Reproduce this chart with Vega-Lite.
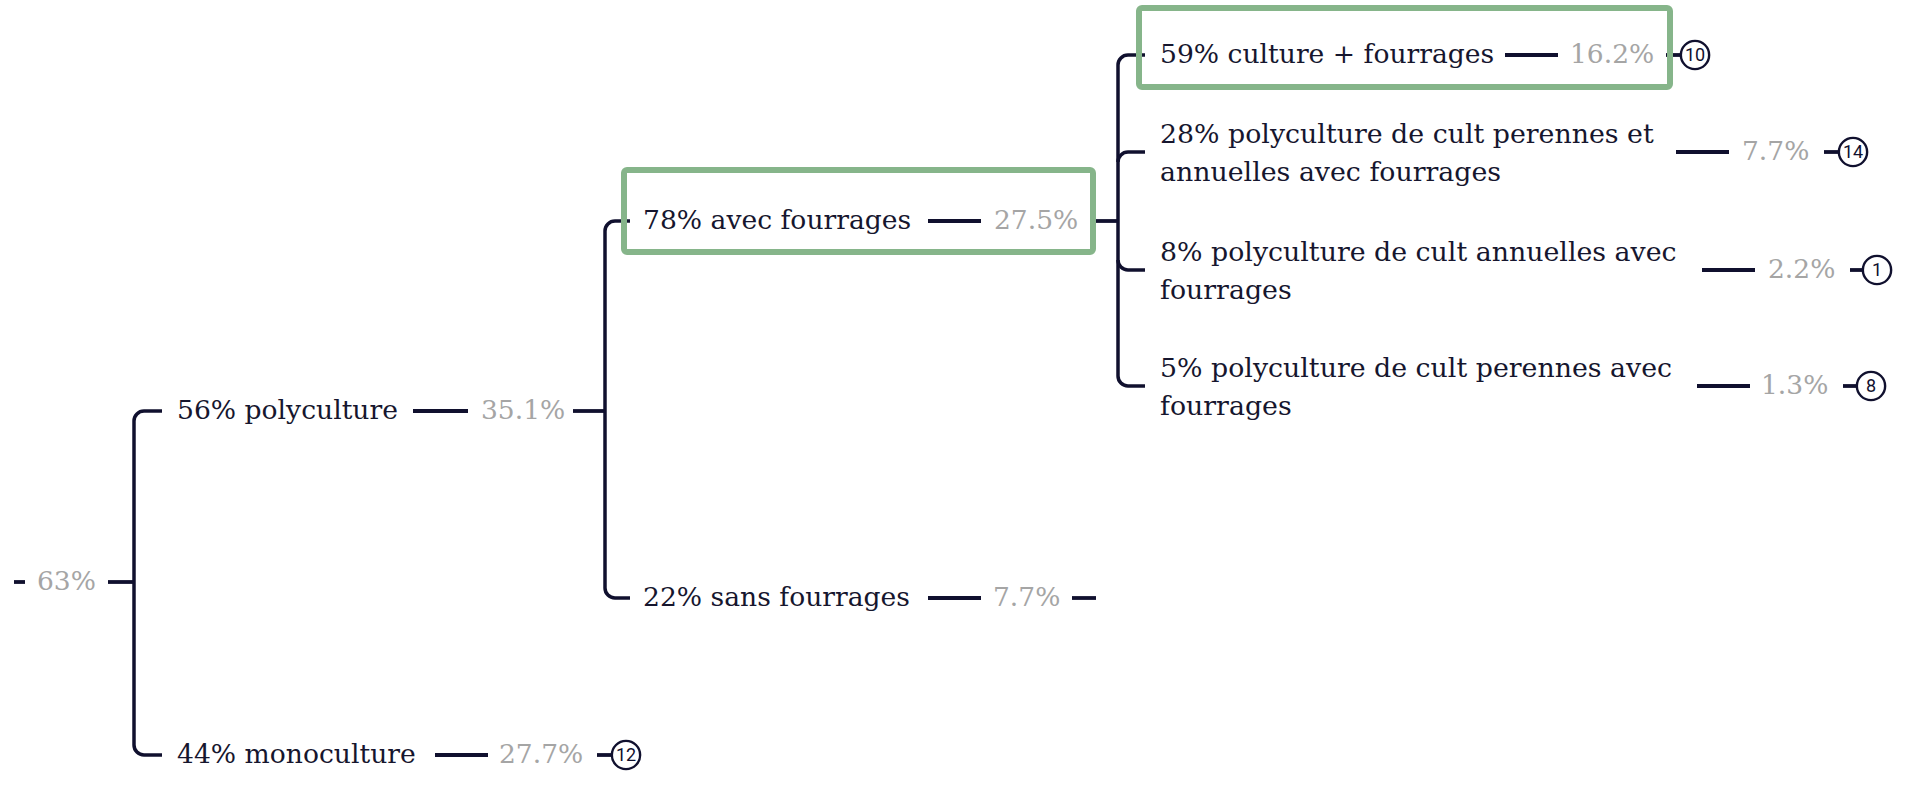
{
  "$schema": "https://vega.github.io/schema/vega-lite/v6.json",
  "autosize": {"type": "fit", "contains": "padding"},
  "width": 1910,
  "height": 786,
  "padding": 0,
  "background": "white",
  "config": {"view": {"stroke": null}},
  "datasets": {
    "nodes": [
      {"id": "root", "label": "", "x": 0, "y": 582, "d1a": 14, "d1b": 25, "vx": 37, "value": "63%", "d2a": 108, "d2b": 134, "cx": null, "count": null},
      {"id": "poly", "label": "56% polyculture", "x": 177, "y": 411, "d1a": 413, "d1b": 468, "vx": 481, "value": "35.1%", "d2a": 573, "d2b": 605, "cx": null, "count": null},
      {"id": "avec", "label": "78% avec fourrages", "x": 643, "y": 221, "d1a": 928, "d1b": 981, "vx": 994, "value": "27.5%", "d2a": 1095, "d2b": 1118, "cx": null, "count": null},
      {"id": "sans", "label": "22% sans fourrages", "x": 643, "y": 598, "d1a": 928, "d1b": 981, "vx": 993, "value": "7.7%", "d2a": 1072, "d2b": 1096, "cx": null, "count": null},
      {"id": "mono", "label": "44% monoculture", "x": 177, "y": 755, "d1a": 435, "d1b": 488, "vx": 499, "value": "27.7%", "d2a": 597, "d2b": 612, "cx": 626, "count": "12"},
      {"id": "l1", "label": "59% culture + fourrages", "x": 1160, "y": 55, "d1a": 1505, "d1b": 1558, "vx": 1570, "value": "16.2%", "d2a": 1666, "d2b": 1681, "cx": 1695, "count": "10"},
      {"id": "l2", "label": "28% polyculture de cult perennes et\nannuelles avec fourrages", "x": 1160, "y": 152, "d1a": 1676, "d1b": 1729, "vx": 1742, "value": "7.7%", "d2a": 1824, "d2b": 1839, "cx": 1853, "count": "14"},
      {"id": "l3", "label": "8% polyculture de cult annuelles avec\nfourrages", "x": 1160, "y": 270, "d1a": 1702, "d1b": 1755, "vx": 1768, "value": "2.2%", "d2a": 1850, "d2b": 1863, "cx": 1877, "count": "1"},
      {"id": "l4", "label": "5% polyculture de cult perennes avec\nfourrages", "x": 1160, "y": 386, "d1a": 1697, "d1b": 1750, "vx": 1761, "value": "1.3%", "d2a": 1843, "d2b": 1857, "cx": 1871, "count": "8"}
    ],
    "links": [
      {"bx": 134, "y": 411, "corner": "top", "sx": 162},
      {"bx": 134, "y": 755, "corner": "bottom", "sx": 162},
      {"bx": 605, "y": 221, "corner": "top", "sx": 630},
      {"bx": 605, "y": 598, "corner": "bottom", "sx": 630},
      {"bx": 1118, "y": 55, "corner": "top", "sx": 1145},
      {"bx": 1118, "y": 152, "corner": "top", "sx": 1145},
      {"bx": 1118, "y": 270, "corner": "bottom", "sx": 1145},
      {"bx": 1118, "y": 386, "corner": "bottom", "sx": 1145}
    ],
    "spines": [
      {"bx": 134, "y1": 411, "y2": 755},
      {"bx": 605, "y1": 221, "y2": 598},
      {"bx": 1118, "y1": 55, "y2": 386}
    ],
    "boxes": [
      {"x1": 624, "y1": 170, "x2": 1093, "y2": 252},
      {"x1": 1139, "y1": 8, "x2": 1670, "y2": 87}
    ]
  },
  "layer": [
    {
      "data": {"name": "spines"},
      "mark": {"type": "rule", "color": "#10102e", "strokeWidth": 3.5, "yOffset": 10, "y2Offset": -10},
      "encoding": {
        "x": {"field": "bx", "type": "quantitative", "axis": null, "scale": {"domain": [0, 1910], "nice": false, "zero": false}},
        "y": {"field": "y1", "type": "quantitative", "axis": null, "scale": {"domain": [0, 786], "nice": false, "zero": false, "reverse": true}},
        "y2": {"field": "y2"}
      }
    },
    {
      "data": {"name": "links"},
      "mark": {"type": "rule", "color": "#10102e", "strokeWidth": 3.5, "xOffset": 10},
      "encoding": {
        "x": {"field": "bx", "type": "quantitative"},
        "x2": {"field": "sx"},
        "y": {"field": "y", "type": "quantitative"}
      }
    },
    {
      "data": {"name": "links"},
      "transform": [{"filter": "datum.corner == 'top'"}],
      "mark": {"type": "arc", "color": "#10102e", "radius": 11.75, "radius2": 8.25, "theta": 4.712389, "theta2": 6.283185, "xOffset": 10, "yOffset": 10},
      "encoding": {
        "x": {"field": "bx", "type": "quantitative"},
        "y": {"field": "y", "type": "quantitative"}
      }
    },
    {
      "data": {"name": "links"},
      "transform": [{"filter": "datum.corner == 'bottom'"}],
      "mark": {"type": "arc", "color": "#10102e", "radius": 11.75, "radius2": 8.25, "theta": 3.141593, "theta2": 4.712389, "xOffset": 10, "yOffset": -10},
      "encoding": {
        "x": {"field": "bx", "type": "quantitative"},
        "y": {"field": "y", "type": "quantitative"}
      }
    },
    {
      "data": {"name": "nodes"},
      "mark": {"type": "rule", "color": "#10102e", "strokeWidth": 3.8},
      "encoding": {
        "x": {"field": "d1a", "type": "quantitative"},
        "x2": {"field": "d1b"},
        "y": {"field": "y", "type": "quantitative"}
      }
    },
    {
      "data": {"name": "nodes"},
      "mark": {"type": "rule", "color": "#10102e", "strokeWidth": 3.8},
      "encoding": {
        "x": {"field": "d2a", "type": "quantitative"},
        "x2": {"field": "d2b"},
        "y": {"field": "y", "type": "quantitative"}
      }
    },
    {
      "data": {"name": "nodes"},
      "transform": [{"filter": "datum.label != '' && indexof(datum.label, '\\n') < 0"}],
      "mark": {"type": "text", "align": "left", "baseline": "middle", "font": "DejaVu Serif", "fontSize": 26.6, "color": "#16162e"},
      "encoding": {
        "x": {"field": "x", "type": "quantitative"},
        "y": {"field": "y", "type": "quantitative"},
        "text": {"field": "label"}
      }
    },
    {
      "data": {"name": "nodes"},
      "transform": [{"filter": "indexof(datum.label, '\\n') >= 0"}],
      "mark": {"type": "text", "align": "left", "baseline": "middle", "font": "DejaVu Serif", "fontSize": 26.8, "lineHeight": 38, "lineBreak": "\n", "dy": -17, "color": "#16162e"},
      "encoding": {
        "x": {"field": "x", "type": "quantitative"},
        "y": {"field": "y", "type": "quantitative"},
        "text": {"field": "label"}
      }
    },
    {
      "data": {"name": "nodes"},
      "mark": {"type": "text", "align": "left", "baseline": "middle", "font": "DejaVu Serif", "fontSize": 26.5, "color": "#a5a5a5"},
      "encoding": {
        "x": {"field": "vx", "type": "quantitative"},
        "y": {"field": "y", "type": "quantitative"},
        "text": {"field": "value"}
      }
    },
    {
      "data": {"name": "nodes"},
      "transform": [{"filter": "datum.count != null"}],
      "mark": {"type": "point", "shape": "circle", "size": 800, "filled": false, "fill": "white", "fillOpacity": 1, "stroke": "#10102e", "strokeWidth": 2.4, "opacity": 1},
      "encoding": {
        "x": {"field": "cx", "type": "quantitative"},
        "y": {"field": "y", "type": "quantitative"}
      }
    },
    {
      "data": {"name": "nodes"},
      "transform": [{"filter": "datum.count != null"}],
      "mark": {"type": "text", "align": "center", "baseline": "middle", "font": "Roboto", "fontSize": 18, "color": "#10102e", "dy": 1},
      "encoding": {
        "x": {"field": "cx", "type": "quantitative"},
        "y": {"field": "y", "type": "quantitative"},
        "text": {"field": "count"}
      }
    },
    {
      "data": {"name": "boxes"},
      "mark": {"type": "rect", "fill": null, "fillOpacity": 0, "stroke": "#86b58a", "strokeWidth": 6, "cornerRadius": 3},
      "encoding": {
        "x": {"field": "x1", "type": "quantitative"},
        "x2": {"field": "x2"},
        "y": {"field": "y1", "type": "quantitative"},
        "y2": {"field": "y2"}
      }
    }
  ]
}
